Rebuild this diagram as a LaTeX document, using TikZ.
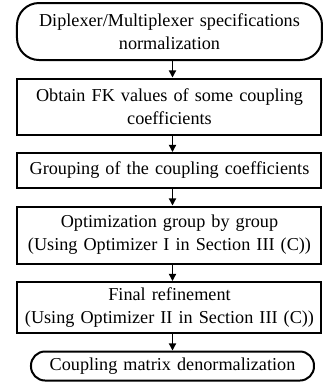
\documentclass[tikz,border=0pt]{standalone}
\usepackage{fontspec}
\setmainfont{Liberation Serif}
\usepackage{tikz}
\usetikzlibrary{arrows.meta, positioning}

\tikzset{
  stepbox/.style={draw, line width=1pt, align=center, text width=152pt, inner xsep=0pt,
    inner ysep=1pt, font=\fontsize{9.1}{11.5}\selectfont},
  termbox/.style={stepbox, rounded corners=#1},
  flowarrow/.style={-{Triangle[length=3.6pt,width=3.6pt]}, line width=0.7pt}
}

\begin{document}
\begin{tikzpicture}[node distance=8.25pt]
  \useasboundingbox (0,0) rectangle (161.5pt,-191pt);
  \node[termbox=11pt, text width=152.5pt, minimum height=28.5pt] (spec) at (84.75pt,-15.75pt)
    {Diplexer/Multiplexer specifications\\ normalization};
  \node[stepbox, minimum height=28pt, below=of spec] (fkval)
    {Obtain FK values of some coupling\\ coefficients};
  \node[stepbox, minimum height=17.5pt, below=of fkval] (group)
    {Grouping of the coupling coefficients};
  \node[stepbox, minimum height=28.5pt, below=of group] (optgrp)
    {Optimization group by group\\ (Using Optimizer I in Section III (C))};
  \node[stepbox, minimum height=25.5pt, below=of optgrp] (refine)
    {Final refinement\\ (Using Optimizer II in Section III (C))};
  \node[termbox=7pt, text width=141.5pt, minimum height=14.5pt, below=of refine, xshift=1.5pt] (denorm)
    {Coupling matrix denormalization};

  % arrows sit a little right of the box centres
  \draw[flowarrow] ([xshift=1.5pt]spec.south) -- ([xshift=1.5pt]fkval.north);
  \draw[flowarrow] ([xshift=1.5pt]fkval.south) -- ([xshift=1.5pt]group.north);
  \draw[flowarrow] ([xshift=1.5pt]group.south) -- ([xshift=1.5pt]optgrp.north);
  \draw[flowarrow] ([xshift=1.5pt]optgrp.south) -- ([xshift=1.5pt]refine.north);
  \draw[flowarrow] ([xshift=1.5pt]refine.south) -- (denorm.north);
\end{tikzpicture}
\end{document}
